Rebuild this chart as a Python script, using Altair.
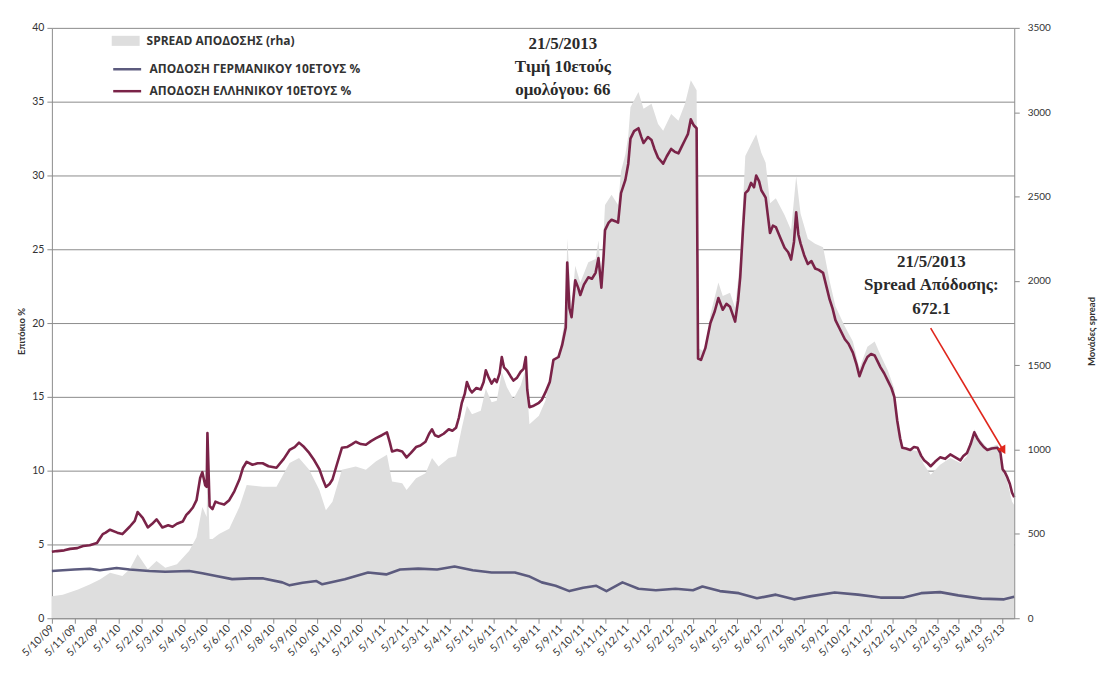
import altair as alt
import pandas as pd

# ---------------- data ----------------
greek_dates = ["2009-10-05","2009-10-12","2009-10-22","2009-10-30","2009-11-09","2009-11-17","2009-11-26","2009-12-06","2009-12-10","2009-12-14","2009-12-18","2009-12-24",
"2010-01-03","2010-01-10","2010-01-20","2010-01-27","2010-01-31","2010-02-07","2010-02-14","2010-02-20","2010-02-26","2010-03-06","2010-03-14","2010-03-20","2010-03-26",
"2010-04-03","2010-04-08","2010-04-12","2010-04-17","2010-04-22","2010-04-27","2010-04-30","2010-05-04","2010-05-06","2010-05-07","2010-05-10","2010-05-14","2010-05-18",
"2010-05-23","2010-05-30","2010-06-06","2010-06-13","2010-06-20","2010-06-25","2010-06-30","2010-07-08","2010-07-15","2010-07-22","2010-07-30","2010-08-10","2010-08-20",
"2010-08-28","2010-09-04","2010-09-10","2010-09-17","2010-09-24","2010-10-01","2010-10-08","2010-10-13","2010-10-17","2010-10-22","2010-10-26","2010-11-01","2010-11-08",
"2010-11-15","2010-11-22","2010-11-27","2010-12-04","2010-12-11","2010-12-18","2010-12-25","2011-01-02","2011-01-09","2011-01-13","2011-01-16","2011-01-23","2011-01-30",
"2011-02-05","2011-02-11","2011-02-18","2011-02-24","2011-03-03","2011-03-08","2011-03-12","2011-03-16","2011-03-21","2011-03-28","2011-04-04","2011-04-09","2011-04-14",
"2011-04-18","2011-04-22","2011-04-26","2011-04-29","2011-05-03","2011-05-06","2011-05-12","2011-05-18","2011-05-22","2011-05-25","2011-05-29","2011-06-02","2011-06-06",
"2011-06-09","2011-06-13","2011-06-16","2011-06-19","2011-06-23","2011-06-28","2011-07-02","2011-07-07","2011-07-12","2011-07-16","2011-07-19","2011-07-21","2011-07-24",
"2011-07-30","2011-08-06","2011-08-10","2011-08-15","2011-08-21","2011-08-26","2011-09-02","2011-09-07","2011-09-12","2011-09-14","2011-09-17","2011-09-20","2011-09-25",
"2011-09-29","2011-10-02","2011-10-07","2011-10-13","2011-10-18","2011-10-23","2011-10-27","2011-10-31","2011-11-03","2011-11-05","2011-11-10","2011-11-14","2011-11-19",
"2011-11-23","2011-11-27","2011-12-03","2011-12-07","2011-12-10","2011-12-15","2011-12-21","2011-12-25","2011-12-28","2012-01-03","2012-01-08","2012-01-12","2012-01-17",
"2012-01-24","2012-01-29","2012-02-04","2012-02-09","2012-02-14","2012-02-19","2012-02-23","2012-02-27","2012-03-02","2012-03-06","2012-03-10","2012-03-12","2012-03-16",
"2012-03-22","2012-03-29","2012-04-04","2012-04-09","2012-04-15","2012-04-20","2012-04-25","2012-05-02","2012-05-06","2012-05-09","2012-05-13","2012-05-16","2012-05-20",
"2012-05-24","2012-05-28","2012-05-31","2012-06-04","2012-06-07","2012-06-13","2012-06-16","2012-06-19","2012-06-23","2012-06-27","2012-07-03","2012-07-09","2012-07-14",
"2012-07-18","2012-07-22","2012-07-25","2012-07-28","2012-07-31","2012-08-05","2012-08-10","2012-08-15","2012-08-20","2012-08-25","2012-08-31","2012-09-05","2012-09-09",
"2012-09-13","2012-09-17","2012-09-23","2012-09-30","2012-10-05","2012-10-11","2012-10-16","2012-10-20","2012-10-26","2012-10-31","2012-11-05","2012-11-10","2012-11-14",
"2012-11-18","2012-11-23","2012-11-28","2012-12-03","2012-12-07","2012-12-11","2012-12-15","2012-12-18","2012-12-23","2012-12-29","2013-01-03","2013-01-08","2013-01-13",
"2013-01-17","2013-01-22","2013-01-26","2013-02-01","2013-02-08","2013-02-15","2013-02-22","2013-03-01","2013-03-08","2013-03-12","2013-03-17","2013-03-22","2013-03-27",
"2013-03-31","2013-04-04","2013-04-09","2013-04-14","2013-04-20","2013-04-28","2013-05-02","2013-05-05","2013-05-08","2013-05-11","2013-05-15","2013-05-18","2013-05-21"]
greek_yield = [4.5,4.55,4.6,4.7,4.75,4.9,4.95,5.1,5.4,5.7,5.8,6.0,
5.8,5.7,6.2,6.6,7.2,6.8,6.15,6.4,6.7,6.15,6.3,6.2,6.4,
6.55,7.0,7.2,7.5,8.0,9.5,9.9,9.0,8.9,12.55,7.6,7.4,7.9,
7.8,7.7,8.0,8.6,9.4,10.2,10.6,10.4,10.5,10.5,10.3,10.2,10.8,
11.4,11.6,11.9,11.6,11.2,10.7,10.1,9.4,8.9,9.1,9.4,10.4,11.55,
11.6,11.8,11.96,11.8,11.75,12.0,12.2,12.4,12.6,11.9,11.3,11.4,11.3,
10.9,11.2,11.6,11.7,11.96,12.5,12.8,12.4,12.3,12.5,12.8,12.7,12.9,
13.6,14.6,15.2,16.0,15.5,15.3,15.6,15.5,16.0,16.8,16.3,15.9,16.2,
16.0,16.6,17.7,17.0,16.8,16.4,16.1,16.3,16.7,16.9,17.7,15.5,14.3,
14.4,14.6,14.8,15.3,16.0,17.5,17.7,18.5,19.7,24.1,21.0,20.4,22.9,
22.4,21.9,22.6,23.1,23.0,23.4,24.4,22.4,24.5,26.3,26.8,27.0,26.9,
26.8,28.8,29.7,30.8,32.5,33.0,33.2,32.6,32.2,32.6,32.4,31.8,31.2,
30.8,31.3,31.8,31.6,31.5,32.0,32.4,32.8,33.8,33.4,33.2,17.6,17.5,
18.3,20.0,20.8,21.7,20.9,21.3,21.1,20.1,21.5,23.1,26.5,28.8,29.0,
29.5,29.2,30.0,29.6,29.0,28.5,27.3,26.1,26.6,26.5,25.8,25.1,24.8,
24.3,25.5,27.5,26.0,25.4,24.6,24.0,24.2,23.7,23.6,23.4,22.4,21.6,
21.0,20.2,19.6,18.9,18.6,18.0,17.2,16.4,17.2,17.7,17.9,17.8,17.4,
17.0,16.6,16.1,15.6,15.0,13.4,12.2,11.55,11.5,11.4,11.6,11.55,11.0,
10.7,10.5,10.3,10.6,10.9,10.8,11.1,10.9,10.7,11.0,11.2,11.8,12.6,
12.2,11.9,11.6,11.4,11.5,11.55,11.2,10.1,9.9,9.6,9.1,8.5,8.2]

german_dates = ["2009-10-05","2009-10-20","2009-11-05","2009-11-26","2009-12-10","2010-01-02","2010-01-20","2010-02-16","2010-03-10","2010-04-12",
"2010-04-30","2010-05-19","2010-06-10","2010-07-05","2010-07-23","2010-08-18","2010-08-28","2010-09-15","2010-10-04","2010-10-12","2010-11-12",
"2010-12-14","2011-01-08","2011-01-27","2011-02-21","2011-03-19","2011-04-12","2011-05-07","2011-06-02","2011-07-04","2011-07-23","2011-08-10",
"2011-08-29","2011-09-17","2011-10-06","2011-10-24","2011-11-07","2011-11-29","2011-12-21","2012-01-14","2012-02-10","2012-03-05","2012-03-18",
"2012-04-11","2012-05-07","2012-06-01","2012-06-27","2012-07-22","2012-08-15","2012-09-16","2012-10-18","2012-11-18","2012-12-20","2013-01-13",
"2013-02-08","2013-03-05","2013-04-06","2013-05-07","2013-05-21"]
german_yield = [3.2,3.25,3.3,3.35,3.25,3.4,3.3,3.2,3.15,3.2,
3.05,2.86,2.65,2.7,2.7,2.43,2.23,2.4,2.52,2.3,2.64,
3.1,2.97,3.3,3.36,3.3,3.5,3.25,3.1,3.1,2.85,2.43,
2.2,1.84,2.07,2.2,1.84,2.43,2.0,1.9,2.0,1.9,2.15,
1.84,1.7,1.35,1.6,1.28,1.5,1.75,1.6,1.4,1.4,1.7,
1.77,1.55,1.33,1.28,1.45]

spread_dates = ["2009-10-05","2009-10-20","2009-11-10","2009-11-26","2009-12-10","2009-12-24","2010-01-10","2010-01-20","2010-01-31","2010-02-14",
"2010-02-26","2010-03-10","2010-03-26","2010-04-12","2010-04-22","2010-04-30","2010-05-06","2010-05-07","2010-05-10","2010-05-14","2010-05-23",
"2010-06-06","2010-06-20","2010-06-30","2010-07-22","2010-08-10","2010-08-28","2010-09-10","2010-09-24","2010-10-08","2010-10-17","2010-10-26",
"2010-11-08","2010-11-27","2010-12-11","2010-12-25","2011-01-09","2011-01-16","2011-01-30","2011-02-05","2011-02-18","2011-03-03","2011-03-12",
"2011-03-21","2011-04-04","2011-04-14","2011-04-22","2011-04-29","2011-05-06","2011-05-18","2011-05-25","2011-06-02","2011-06-09","2011-06-16",
"2011-06-23","2011-07-02","2011-07-12","2011-07-19","2011-07-24","2011-08-06","2011-08-15","2011-08-26","2011-09-02","2011-09-12","2011-09-14",
"2011-09-20","2011-09-25","2011-10-02","2011-10-13","2011-10-23","2011-10-27","2011-10-31","2011-11-05","2011-11-14","2011-11-23","2011-11-27",
"2011-12-03","2011-12-07","2011-12-10","2011-12-21","2011-12-28","2012-01-08","2012-01-17","2012-01-24","2012-02-04","2012-02-14","2012-02-23",
"2012-03-02","2012-03-10","2012-03-12","2012-03-22","2012-03-29","2012-04-09","2012-04-15","2012-04-25","2012-05-02","2012-05-09","2012-05-16",
"2012-05-24","2012-05-31","2012-06-07","2012-06-13","2012-06-19","2012-06-27","2012-07-09","2012-07-18","2012-07-25","2012-07-31","2012-08-10",
"2012-08-20","2012-08-31","2012-09-09","2012-09-17","2012-09-30","2012-10-11","2012-10-20","2012-10-31","2012-11-10","2012-11-18","2012-11-28",
"2012-12-07","2012-12-11","2012-12-18","2012-12-29","2013-01-08","2013-01-17","2013-01-26","2013-02-08","2013-02-22","2013-03-08","2013-03-17",
"2013-03-27","2013-04-04","2013-04-14","2013-04-28","2013-05-05","2013-05-11","2013-05-18","2013-05-21"]
spread_bps = [130,140,170,200,230,270,250,290,380,290,
340,300,320,400,480,660,600,930,470,470,500,
530,660,790,780,780,920,950,880,760,640,690,
880,900,880,930,970,810,800,760,830,860,950,
900,950,960,1130,1260,1210,1230,1360,1280,1290,1460,
1370,1300,1380,1480,1150,1200,1290,1530,1550,1800,2250,
1840,2090,1990,2110,2130,2240,2020,2450,2510,2450,2650,
2750,2860,3030,3120,3020,3050,2930,2890,2990,2950,3050,
3190,3130,1600,1580,1800,1990,1910,1930,1840,2130,2740,
2810,2870,2760,2700,2460,2490,2390,2300,2620,2400,2250,
2220,2200,2000,1850,1730,1640,1480,1610,1640,1560,1470,
1360,1200,1010,1000,990,910,850,910,950,920,960,
1120,1060,1010,1030,870,820,690,672]

series_names = ["SPREAD ΑΠΟΔΟΣΗΣ (rha)", "ΑΠΟΔΟΣΗ ΓΕΡΜΑΝΙΚΟΥ 10ΕΤΟΥΣ %", "ΑΠΟΔΟΣΗ ΕΛΛΗΝΙΚΟΥ 10ΕΤΟΥΣ %"]
left_ticks = [0, 5, 10, 15, 20, 25, 30, 35, 40]
right_ticks = [0, 500, 1000, 1500, 2000, 2500, 3000, 3500]
tick_months = [(2009, m) for m in (10, 11, 12)] + [(y, m) for y in (2010, 2011, 2012) for m in range(1, 13)] + [(2013, m) for m in range(1, 6)]

note1_lines = ["21/5/2013", "Τιμή 10ετούς", "ομολόγου: 66"]
note1_dates = ["2011-09-08"] * 3
note1_vals = [38.92, 37.36, 35.81]
note2_lines = ["21/5/2013", "Spread Απόδοσης:", "672.1"]
note2_dates = ["2013-01-27"] * 3
note2_vals = [24.15, 22.55, 20.95]
arrow_from = ("2013-01-26", 19.66)
arrow_to = ("2013-05-05", 11.45)

# ---------------- frames ----------------
spread_df = pd.DataFrame({"date": spread_dates, "value": spread_bps, "series": series_names[0]})
line_df = pd.concat([
    pd.DataFrame({"date": german_dates, "value": german_yield, "series": series_names[1]}),
    pd.DataFrame({"date": greek_dates, "value": greek_yield, "series": series_names[2]}),
])
notes_df = pd.DataFrame({"date": note1_dates + note2_dates, "value": note1_vals + note2_vals,
                         "label": note1_lines + note2_lines})
arrow_df = pd.DataFrame({"date": [arrow_from[0]], "value": [arrow_from[1]],
                         "date2": [arrow_to[0]], "value2": [arrow_to[1]]})

SANS = "Lato"
LEG = "Open Sans"
SERIF = "Liberation Serif"
AXC = "#8c8c8c"

xscale = alt.Scale(type="utc", nice=False,
                   domain=[alt.DateTime(year=2009, month=10, date=5, utc=True),
                           alt.DateTime(year=2013, month=5, date=21, utc=True)])
xaxis = alt.Axis(values=[alt.DateTime(year=y, month=m, date=5, utc=True) for y, m in tick_months],
                 labelExpr="utcFormat(datum.value, '%-d/%-m/%y')", labelAngle=-45, labelAlign="right",
                 labelBaseline="middle", labelOverlap=False, labelFontSize=10.5, labelFont=SANS,
                 labelColor="#333333", labelPadding=3, tickSize=5, tickColor=AXC, domainColor=AXC,
                 grid=False, title="", zindex=1)

yscale_left = alt.Scale(domain=[0, 40], nice=False)
yaxis_left = alt.Axis(values=left_ticks, grid=True, gridColor=AXC, gridWidth=1, tickSize=5,
                      tickColor=AXC, domainColor=AXC, labelFontSize=10.5, labelFont=SANS,
                      labelColor="#333333", labelPadding=3, title="Επιτόκιο %", titleFont=SANS,
                      titleFontSize=9.5, titleFontWeight="bold", titleColor="#333333",
                      titleAngle=270, titleX=-25, titleY=304, titleAlign="center", zindex=0)


def X(field):
    return alt.X(field, type="temporal", scale=xscale, axis=xaxis)


def YL(field):
    return alt.Y(field, type="quantitative", scale=yscale_left, axis=yaxis_left)


area = alt.Chart(spread_df).mark_area(interpolate="linear", opacity=1).encode(
    x=X("date"),
    y=alt.Y("value:Q", scale=alt.Scale(domain=[0, 3500], nice=False),
            axis=alt.Axis(orient="right", values=right_ticks, format="d", grid=False, tickSize=5,
                          tickColor=AXC, domainColor=AXC, labelFontSize=10, labelFont=SANS,
                          labelColor="#333333", labelPadding=8, title="Μονάδες spread",
                          titleFont=SANS, titleFontSize=9.5, titleFontWeight="bold",
                          titleColor="#333333", titleAngle=270, titleX=82, titleY=304,
                          titleAlign="center", zindex=1)),
    fill=alt.Fill("series:N", scale=alt.Scale(domain=[series_names[0]], range=["#dedede"]),
                  legend=alt.Legend(orient="none", legendX=60, legendY=-1, title=None,
                                    symbolType="M-1,-0.36L1,-0.36L1,0.36L-1,0.36Z", symbolSize=784,
                                    symbolStrokeWidth=0, labelFont=LEG, labelFontSize=12,
                                    labelFontWeight="bold", labelColor="#333333", labelOffset=7,
                                    labelLimit=400, padding=0)),
)

lines = alt.Chart(line_df).mark_line(strokeWidth=2.6, strokeJoin="round").encode(
    x=X("date"),
    y=YL("value"),
    stroke=alt.Stroke("series:N", scale=alt.Scale(domain=series_names[1:], range=["#5c5b7e", "#7a2348"]),
                      legend=alt.Legend(orient="none", legendX=60, legendY=26, title=None,
                                        symbolType="stroke", symbolSize=784, symbolStrokeWidth=2.5,
                                        labelFont=LEG, labelFontSize=12, labelFontWeight="bold",
                                        labelColor="#333333", labelOffset=7, labelLimit=400,
                                        padding=0, rowPadding=0)),
    order=alt.Order("series:N"),
)

notes = alt.Chart(notes_df).mark_text(font=SERIF, fontSize=17, fontWeight="bold", color="#2a2a2a",
                                      align="center", baseline="middle").encode(
    x=X("date"), y=YL("value"), text="label:N")

arrow_line = alt.Chart(arrow_df).mark_rule(color="#e0261c", strokeWidth=1.6).encode(
    x=X("date"), y=YL("value"), x2="date2:T", y2="value2:Q")
arrow_head = alt.Chart(arrow_df).mark_point(shape="triangle", filled=True, size=90, angle=150,
                                            color="#e0261c", opacity=1).encode(
    x=X("date2"), y=YL("value2"))

left = alt.layer(lines, arrow_line, arrow_head, notes)

chart = alt.layer(area, left).resolve_scale(y="independent").properties(
    width=965, height=592,
    padding={"left": 44, "top": 19, "right": 88, "bottom": 60},
    autosize=alt.AutoSizeParams(type="none"),
    background="white",
).configure_view(stroke=None)

chart.save("out.html", embed_options={"renderer": "svg", "actions": False})
